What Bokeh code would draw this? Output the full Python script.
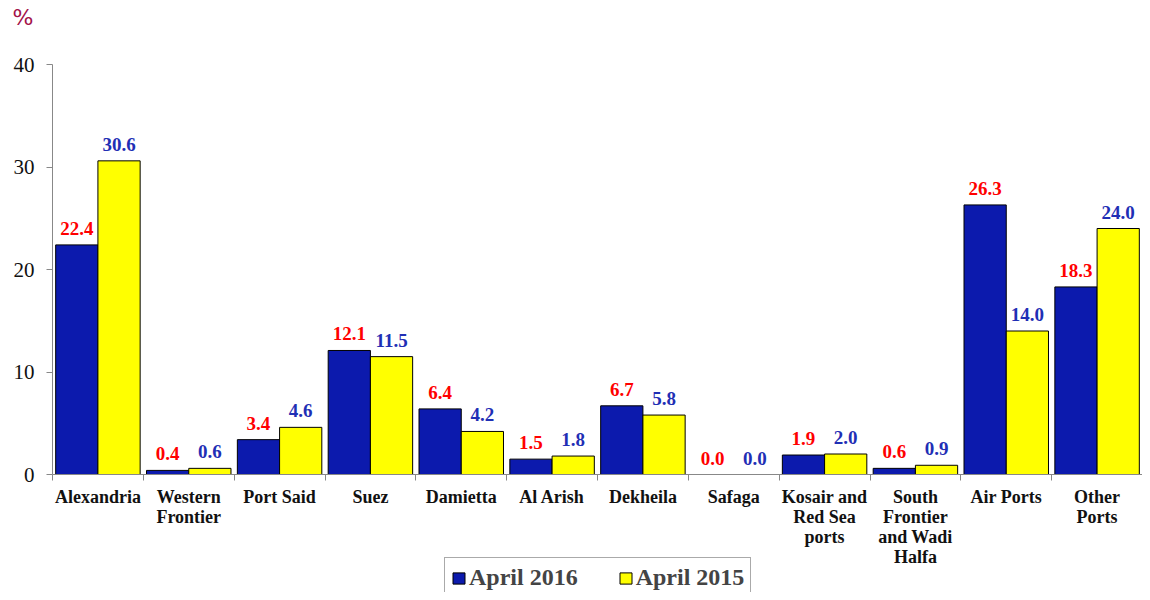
import numpy as np
from bokeh.plotting import figure
from bokeh.models import ColumnDataSource, Range1d, FixedTicker, Legend, LegendItem, Label
from bokeh.core.properties import value
from bokeh.embed import file_html
from bokeh.resources import INLINE

categories = ["Alexandria", "Western\nFrontier", "Port Said", "Suez", "Damietta", "Al Arish",
              "Dekheila", "Safaga", "Kosair and\nRed Sea\nports", "South\nFrontier\nand Wadi\nHalfa",
              "Air Ports", "Other\nPorts"]
april_2016 = [22.4, 0.4, 3.4, 12.1, 6.4, 1.5, 6.7, 0.0, 1.9, 0.6, 26.3, 18.3]
april_2015 = [30.6, 0.6, 4.6, 11.5, 4.2, 1.8, 5.8, 0.0, 2.0, 0.9, 14.0, 24.0]
series_names = ["April 2016", "April 2015"]
y_ticks = [0, 10, 20, 30, 40]

FONT = "Liberation Serif"
BAR_BLUE = "#0c1aad"
BAR_YELLOW = "#ffff00"
TXT_RED = "#ff0000"
TXT_BLUE = "#1f2fb5"

# layout (pixels): the frame covers the whole figure, axes are drawn at fixed locations
W, H = 1142, 592
AXIS_X, TOP40_Y, ZERO_Y = 52, 64, 474
n = len(categories)
px_per_unit = (ZERO_Y - TOP40_Y) / 40.0
px_per_cat = (W - AXIS_X) / n
y_start = -(H - ZERO_Y) / px_per_unit
y_end = 40 + TOP40_Y / px_per_unit
x_start = -AXIS_X / px_per_cat

idx = np.arange(n)
centers = idx + 0.5
off = 0.2325
bw = 0.465

src = ColumnDataSource(dict(
    x16=centers - off, x15=centers + off,
    v16=april_2016, v15=april_2015,
    l16=[f"{v:.1f}" for v in april_2016],
    l15=[f"{v:.1f}" for v in april_2015],
))

p = figure(width=W, height=H, output_backend="svg", toolbar_location=None,
           x_range=Range1d(x_start, n), y_range=Range1d(y_start, y_end),
           min_border=0)
p.outline_line_color = None
p.xgrid.visible = False
p.ygrid.visible = False

r16 = p.vbar(x="x16", top="v16", width=bw, source=src, fill_color=BAR_BLUE, line_color="black", line_width=1)
r15 = p.vbar(x="x15", top="v15", width=bw, source=src, fill_color=BAR_YELLOW, line_color="black", line_width=1)

p.text(x="x16", y="v16", text="l16", source=src, text_align="center", text_baseline="bottom",
       y_offset=-10, text_font=value(FONT), text_font_style="bold", text_font_size="19px", text_color=TXT_RED)
p.text(x="x15", y="v15", text="l15", source=src, text_align="center", text_baseline="bottom",
       y_offset=-10, text_font=value(FONT), text_font_style="bold", text_font_size="19px", text_color=TXT_BLUE)

# x axis drawn at y = 0
xa = p.xaxis[0]
xa.fixed_location = 0
xa.bounds = (0, n)
xa.ticker = FixedTicker(ticks=list(centers), minor_ticks=list(idx.astype(float)) + [float(n)])
xa.major_label_overrides = {float(c): lab for c, lab in zip(centers, categories)}
xa.major_tick_out = 0
xa.major_tick_in = 0
xa.minor_tick_out = 6
xa.minor_tick_in = 0
xa.minor_tick_line_color = "#888888"
xa.axis_line_color = "#888888"
xa.major_label_text_font = FONT
xa.major_label_text_font_style = "bold"
xa.major_label_text_font_size = "18px"
xa.major_label_text_line_height = 1.0
xa.major_label_text_color = "#111111"
xa.major_label_standoff = 6

# y axis drawn at x = 0
ya = p.yaxis[0]
ya.fixed_location = 0
ya.bounds = (0, 40)
ya.ticker = FixedTicker(ticks=y_ticks)
ya.minor_tick_line_color = None
ya.major_tick_out = 6
ya.major_tick_in = 0
ya.major_tick_line_color = "#888888"
ya.axis_line_color = "#888888"
ya.major_label_text_font = FONT
ya.major_label_text_font_size = "21px"
ya.major_label_text_color = "#111111"
ya.major_label_standoff = 12

# "%" unit label
p.add_layout(Label(x=12, y=H - 4, x_units="screen", y_units="screen", text="%",
                   text_font="DejaVu Sans", text_font_size="22px", text_color="#a3114a",
                   text_baseline="top", text_align="left"))

legend = Legend(items=[LegendItem(label=series_names[0], renderers=[r16]),
                       LegendItem(label=series_names[1], renderers=[r15])],
                orientation="horizontal", location=(AXIS_X + 392, -6),
                padding=6, spacing=40, label_standoff=3, glyph_width=15, glyph_height=14,
                label_text_font=FONT, label_text_font_style="bold", label_text_font_size="24px",
                border_line_color="#555555", border_line_width=1, background_fill_alpha=1)
p.add_layout(legend, "center")

open("out.html", "w").write(file_html(p, INLINE))
